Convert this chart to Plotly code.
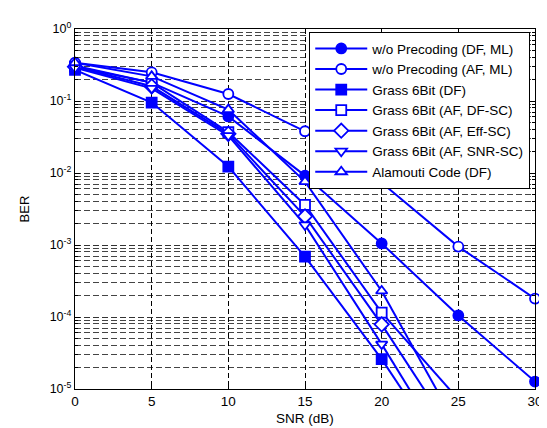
import plotly.graph_objects as go

snr = [0, 5, 10, 15, 20, 25, 30]

names = [
    "w/o Precoding (DF, ML)",
    "w/o Precoding (AF, ML)",
    "Grass 6Bit (DF)",
    "Grass 6Bit (AF, DF-SC)",
    "Grass 6Bit (AF, Eff-SC)",
    "Grass 6Bit (AF, SNR-SC)",
    "Alamouti Code (DF)",
]

df_ml = [0.31, 0.18, 0.061, 0.0092, 1.05e-3, 1.05e-4, 1.27e-5]
af_ml = [0.34, 0.25, 0.125, 0.038, 0.0073, 9.5e-4, 1.8e-4]
grass_df = [0.27, 0.095, 0.0123, 6.9e-4, 2.6e-5, 6.5e-7]
grass_df_sc = [0.30, 0.18, 0.037, 0.0036, 1.15e-4, 7.2e-6]
grass_eff_sc = [0.30, 0.16, 0.035, 0.0025, 7.9e-5, 1.85e-6]
grass_snr_sc = [0.29, 0.15, 0.033, 0.0019, 4.2e-5, 7.8e-7]
alamouti = [0.34, 0.22, 0.076, 0.0076, 2.3e-4, 2.8e-6]

series = [df_ml, af_ml, grass_df, grass_df_sc, grass_eff_sc, grass_snr_sc, alamouti]
symbols = ["circle", "circle", "square", "square", "diamond", "triangle-down", "triangle-up"]
filled = [True, False, True, False, False, False, False]

decades = [-5, -4, -3, -2, -1, 0]
ymin = 1e-5

BLUE = "#0000FF"
FONT = "Liberation Sans, Arial, sans-serif"

fig = go.Figure()

for name, vals, sym, fil in zip(names, series, symbols, filled):
    xs = snr[:len(vals)]
    inside = [(x, v) for x, v in zip(xs, vals) if v >= ymin]
    tail_start = len(inside) - 1
    if len(inside) < len(vals):
        fig.add_trace(go.Scatter(
            x=xs[tail_start:], y=vals[tail_start:], mode="lines",
            line=dict(color=BLUE, width=2), showlegend=False, hoverinfo="skip",
        ))
    fig.add_trace(go.Scatter(
        x=[p[0] for p in inside], y=[p[1] for p in inside],
        mode="lines+markers", name=name, cliponaxis=False,
        line=dict(color=BLUE, width=2),
        marker=dict(symbol=sym, size=10 if sym != "diamond" else 11,
                    color=BLUE if fil else "white",
                    line=dict(color=BLUE, width=1.8)),
    ))

minor_vals = [k * 10.0 ** e for e in decades[:-1] for k in range(2, 10)]

fig.update_layout(
    width=547, height=428,
    margin=dict(l=66.5, r=13, t=17.5, b=42),
    paper_bgcolor="white", plot_bgcolor="white",
    font=dict(family=FONT, size=13, color="black"),
    legend=dict(
        x=0.989, y=0.992, xanchor="right", yanchor="top",
        bgcolor="white", bordercolor="black", borderwidth=1.3,
        font=dict(family=FONT, size=13.5, color="black"),
        tracegroupgap=0, itemwidth=52,
    ),
    showlegend=True,
)

fig.update_xaxes(
    range=[0, 30], tickvals=snr, ticktext=[str(s) for s in snr],
    showline=True, linecolor="black", linewidth=1.3, mirror="ticks",
    ticks="inside", ticklen=5, tickcolor="black",
    showgrid=True, gridcolor="black", gridwidth=1, griddash="5px,3px",
    zeroline=False,
    title=dict(text="SNR (dB)", font=dict(family=FONT, size=13.5), standoff=5),
    tickfont=dict(family=FONT, size=13.5),
)

fig.update_yaxes(
    type="log", range=[-5, 0],
    tickvals=[10.0 ** d for d in decades],
    ticktext=["10<sup>%d</sup>" % d for d in decades],
    showline=True, linecolor="black", linewidth=1.3, mirror="ticks",
    ticks="inside", ticklen=5, tickcolor="black",
    showgrid=True, gridcolor="#333333", gridwidth=1, griddash="6px,3px",
    zeroline=False,
    minor=dict(tickmode="array", tickvals=minor_vals, ticks="inside", ticklen=3,
               tickcolor="black", showgrid=True, gridcolor="#444444",
               gridwidth=1, griddash="6px,3px"),
    title=dict(text="BER", font=dict(family=FONT, size=13), standoff=17),
    tickfont=dict(family=FONT, size=12.5),
)

fig.write_html("out.html")
